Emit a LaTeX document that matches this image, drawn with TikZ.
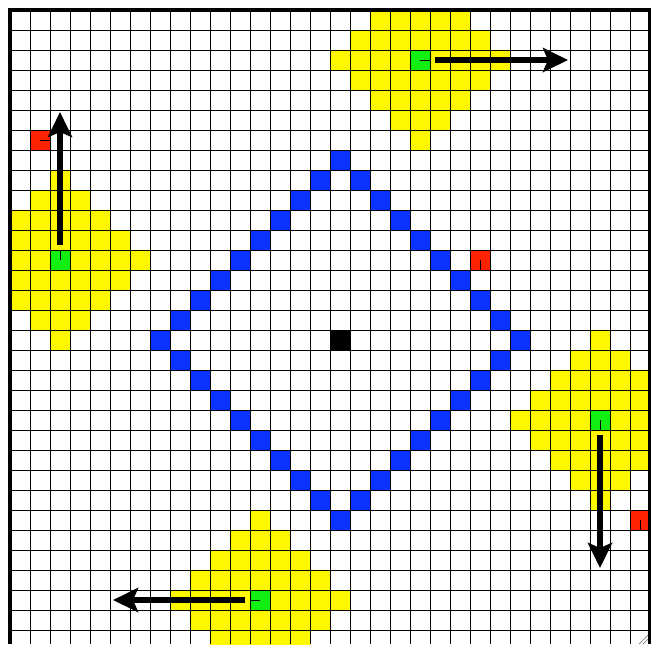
\documentclass[tikz,border=0pt]{standalone}
\usepackage{xcolor}
\usepackage{tikz}
\usetikzlibrary{arrows.meta, positioning}
\definecolor{sightyellow}{HTML}{FFF700}
\definecolor{agentgreen}{HTML}{11EE11}
\definecolor{wallblue}{HTML}{0A33FF}
\definecolor{rivalred}{HTML}{FF2200}

\begin{document}
\begin{tikzpicture}[
    x=0.4cm, y=-0.4cm,
    cell/.style={rectangle, minimum size=0.4cm, inner sep=0pt, outer sep=0pt, draw=none},
    agent/.style={cell, fill=agentgreen},
    rival/.style={cell, fill=rivalred},
    target/.style={cell, fill=black},
    gridline/.style={line width=0.5pt, black},
    facing/.style={line width=0.5pt, black},
    heading/.style={-{Stealth[length=0.5cm, width=0.48cm, inset=0.1cm]}, line width=3.4pt, black, shorten <=0.1cm},
    frame/.style={line width=2pt, black},
]
    \useasboundingbox (-0.5,-0.5) rectangle (32.1,31.7);

    % Sight areas
    \begin{scope}
        \clip (0,0) rectangle (31.9,31.7);
        \foreach \c/\r in {20/2, 2/12, 29/20, 12/29} {
            \foreach \dx in {-4,...,4} {
                \pgfmathtruncatemacro{\reach}{4-abs(\dx)}
                \pgfmathtruncatemacro{\lo}{abs(\dx)-4}
                \foreach \dy in {\lo,...,\reach}
                    \fill[sightyellow] (\c+\dx,\r+\dy) rectangle ++(1,1);
            }
        }
    \end{scope}

    % Wall diamond
    \foreach \i in {0,...,8} {
        \fill[wallblue] (16+\i,7+\i) rectangle ++(1,1);
        \fill[wallblue] (25-\i,16+\i) rectangle ++(1,1);
        \fill[wallblue] (16-\i,25-\i) rectangle ++(1,1);
        \fill[wallblue] (7+\i,16-\i) rectangle ++(1,1);
    }

    % Cells
    \node[target] (goal) at (16.5,16.5) {};
    \node[agent] (topagent) at (20.5,2.5) {};
    \node[agent] (leftagent) at (2.5,12.5) {};
    \node[agent] (rightagent) at (29.5,20.5) {};
    \node[agent] (bottomagent) at (12.5,29.5) {};
    \node[rival] (rivala) at (1.5,6.5) {};
    \node[rival] (rivalb) at (23.5,12.5) {};
    \node[rival] (rivalc) at (31.5,25.5) {};

    % Grid
    \begin{scope}
        \clip (0,0) rectangle (31.9,31.7);
        \foreach \k in {0,...,32} \draw[gridline] (\k,0) -- (\k,31.7);
        \foreach \k in {0,...,32} \draw[gridline] (0,\k) -- (31.9,\k);
    \end{scope}

    % Facing ticks
    \draw[facing] (topagent.center) -- (topagent.east);
    \draw[facing] (leftagent.center) -- (leftagent.north);
    \draw[facing] (rightagent.center) -- (rightagent.south);
    \draw[facing] (bottomagent.center) -- (bottomagent.west);
    \draw[facing] (rivala.center) -- (rivala.east);
    \draw[facing] (rivalb.center) -- (rivalb.south);
    \draw[facing] (rivalc.center) -- (rivalc.south);

    % Headings
    \coordinate (topaim) at (27.9,2.5);
    \coordinate (leftaim) at (2.5,5.1);
    \coordinate (rightaim) at (29.5,27.9);
    \coordinate (bottomaim) at (5.15,29.5);
    \draw[heading] (topagent) -- (topaim);
    \draw[heading] (leftagent) -- (leftaim);
    \draw[heading] (rightagent) -- (rightaim);
    \draw[heading] (bottomagent) -- (bottomaim);

    % Frame
    \draw[frame] (0,31.7) -- (0,0) -- (31.98,0) -- (31.98,31.7);
    \draw[gray, line width=0.4pt] (31.45,31.7) -- (31.9,31.25);
    \draw[gray, line width=0.4pt] (31.65,31.7) -- (31.9,31.45);
\end{tikzpicture}
\end{document}
